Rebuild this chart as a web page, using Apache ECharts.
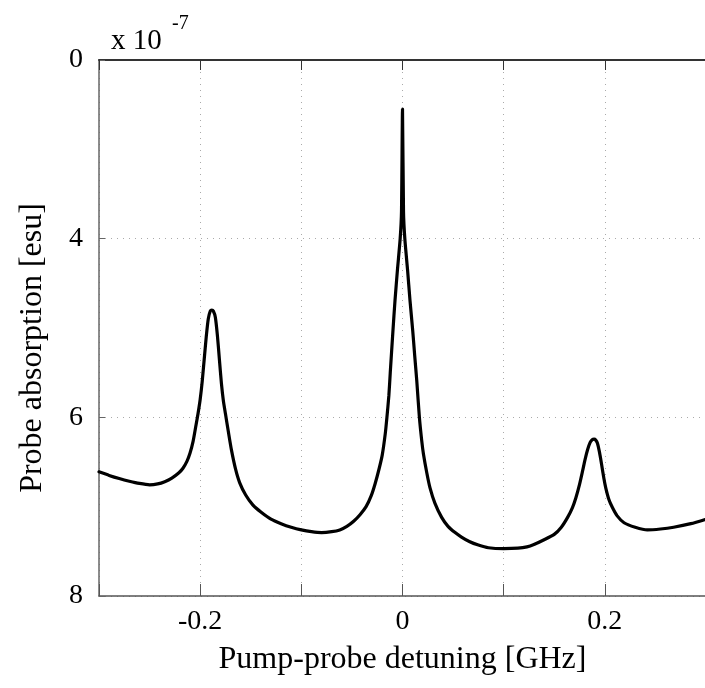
<!DOCTYPE html>
<html>
<head>
<meta charset="utf-8">
<script src="https://cdn.jsdelivr.net/npm/echarts@6/dist/echarts.min.js"></script>
<style>
  html, body { margin: 0; padding: 0; background: #fff; overflow: hidden; }
  #show_picture { width: 709px; height: 688px; }
</style>
</head>
<body>
<div id="show_picture"></div>
<script>
// detuning in GHz
const detuning = [
  -0.300, -0.290, -0.280, -0.270, -0.260, -0.250, -0.242, -0.235, -0.228, -0.221,
  -0.217, -0.213, -0.210, -0.207, -0.204, -0.202, -0.200, -0.198, -0.196, -0.194,
  -0.192, -0.190, -0.1885, -0.187, -0.185, -0.183, -0.181, -0.179, -0.177, -0.175,
  -0.172, -0.169, -0.165, -0.161, -0.155, -0.148, -0.140, -0.130, -0.120, -0.110,
  -0.100, -0.090, -0.080, -0.070, -0.062, -0.055, -0.048, -0.042, -0.036, -0.031,
  -0.027, -0.023, -0.020, -0.017, -0.0154, -0.0135, -0.0121, -0.0095, -0.0074, -0.005,
  -0.0023, -0.001, 0, 0.001, 0.0023, 0.005, 0.0074, 0.0101, 0.012, 0.0141,
  0.0167, 0.019, 0.0207, 0.024, 0.0272, 0.032, 0.0387, 0.045, 0.052, 0.0583,
  0.066, 0.075, 0.085, 0.100, 0.114, 0.123, 0.1305, 0.140, 0.150, 0.157,
  0.1632, 0.168, 0.1714, 0.175, 0.178, 0.1805, 0.183, 0.1855, 0.1875, 0.1894,
  0.191, 0.1927, 0.1947, 0.1967, 0.199, 0.2009, 0.204, 0.2075, 0.212, 0.219,
  0.230, 0.242, 0.255, 0.268, 0.285, 0.300
];
// probe absorption, x 10^-7 esu
const absorption = [
  6.61, 6.65, 6.685, 6.715, 6.74, 6.755, 6.745, 6.72, 6.68, 6.62,
  6.57, 6.49, 6.40, 6.27, 6.08, 5.95, 5.80, 5.60, 5.35, 5.10,
  4.90, 4.81, 4.80, 4.81, 4.88, 5.08, 5.35, 5.62, 5.82, 5.96,
  6.17, 6.37, 6.58, 6.73, 6.87, 6.98, 7.06, 7.14, 7.19, 7.23,
  7.26, 7.28, 7.29, 7.28, 7.26, 7.22, 7.16, 7.09, 7.00, 6.88,
  6.74, 6.57, 6.42, 6.18, 6.00, 5.76, 5.50, 5.04, 4.69, 4.35,
  4.00, 3.70, 2.55, 3.70, 4.00, 4.35, 4.69, 5.03, 5.30, 5.59,
  6.00, 6.26, 6.41, 6.62, 6.79, 6.96, 7.12, 7.22, 7.29, 7.34,
  7.39, 7.43, 7.46, 7.47, 7.465, 7.45, 7.42, 7.37, 7.31, 7.23,
  7.12, 7.01, 6.90, 6.75, 6.60, 6.47, 6.36, 6.28, 6.25, 6.245,
  6.255, 6.29, 6.39, 6.52, 6.68, 6.79, 6.92, 7.01, 7.10, 7.18,
  7.23, 7.26, 7.25, 7.23, 7.19, 7.14
];
const xTickValues = [-0.2, 0, 0.2];
const xTickLabels = ['-0.2', '0', '0.2'];
const yTickValues = [2, 4, 6, 8];
const yTickLabels = ['0', '4', '6', '8'];

let myChart = echarts.init(document.getElementById('show_picture'));

let pts = detuning.map((x, i) => [x, absorption[i]]);

const serif = '"Liberation Serif", "Times New Roman", serif';

function xLabel(v) {
  let i = xTickValues.findIndex(t => Math.abs(t - v) < 1e-6);
  return i < 0 ? '' : xTickLabels[i];
}
function yLabel(v) {
  let i = yTickValues.findIndex(t => Math.abs(t - v) < 1e-6);
  return i < 0 ? '' : yTickLabels[i];
}

let option = {
  animation: false,
  backgroundColor: '#fff',
  grid: { left: 99, right: 0, top: 60, bottom: 92 },
  graphic: [
    { type: 'text', left: 111, top: 27, style: { text: 'x 10', font: '29px ' + serif, fill: '#000' } },
    { type: 'text', left: 172, top: 14, style: { text: '-7', font: '20px ' + serif, fill: '#000' } }
  ],
  xAxis: [
    {
      type: 'value', min: -0.3, max: 0.3, interval: 0.1,
      name: 'Pump-probe detuning [GHz]',
      nameLocation: 'middle', nameGap: 48,
      nameTextStyle: { fontFamily: serif, fontSize: 32, color: '#000' },
      axisLine: { onZero: false, lineStyle: { color: '#555', width: 1.5 } },
      axisTick: { inside: true, length: 12, lineStyle: { color: '#555' } },
      axisLabel: { formatter: xLabel, fontFamily: serif, fontSize: 28, color: '#000', margin: 12 },
      splitLine: { show: true, lineStyle: { color: '#aaa', type: [1, 5] } }
    },
    {
      type: 'value', position: 'top', min: -0.3, max: 0.3, interval: 0.1,
      axisLine: { onZero: false, lineStyle: { color: '#333', width: 2 } },
      axisTick: { inside: true, length: 10, lineStyle: { color: '#333' } },
      axisLabel: { show: false },
      splitLine: { show: false }
    }
  ],
  yAxis: {
    type: 'value', min: 2, max: 8, interval: 2, inverse: true,
    name: 'Probe absorption [esu]',
    nameLocation: 'middle', nameGap: 50,
    nameTextStyle: { fontFamily: serif, fontSize: 32, color: '#000', padding: [0, 40, 0, 0] },
    axisLine: { show: true, onZero: false, lineStyle: { color: '#666', width: 1.5 } },
    axisTick: { show: true, inside: true, length: 6, lineStyle: { color: '#666' } },
    axisLabel: { formatter: yLabel, fontFamily: serif, fontSize: 28, color: '#000', margin: 16 },
    splitLine: { show: true, lineStyle: { color: '#aaa', type: [1, 5] } }
  },
  series: [
    {
      type: 'line',
      data: pts,
      showSymbol: false,
      smooth: 0.2,
      clip: true,
      lineStyle: { color: '#000', width: 3.2, join: 'round', cap: 'round' }
    }
  ]
};

option && myChart.setOption(option);
</script>
</body>
</html>
